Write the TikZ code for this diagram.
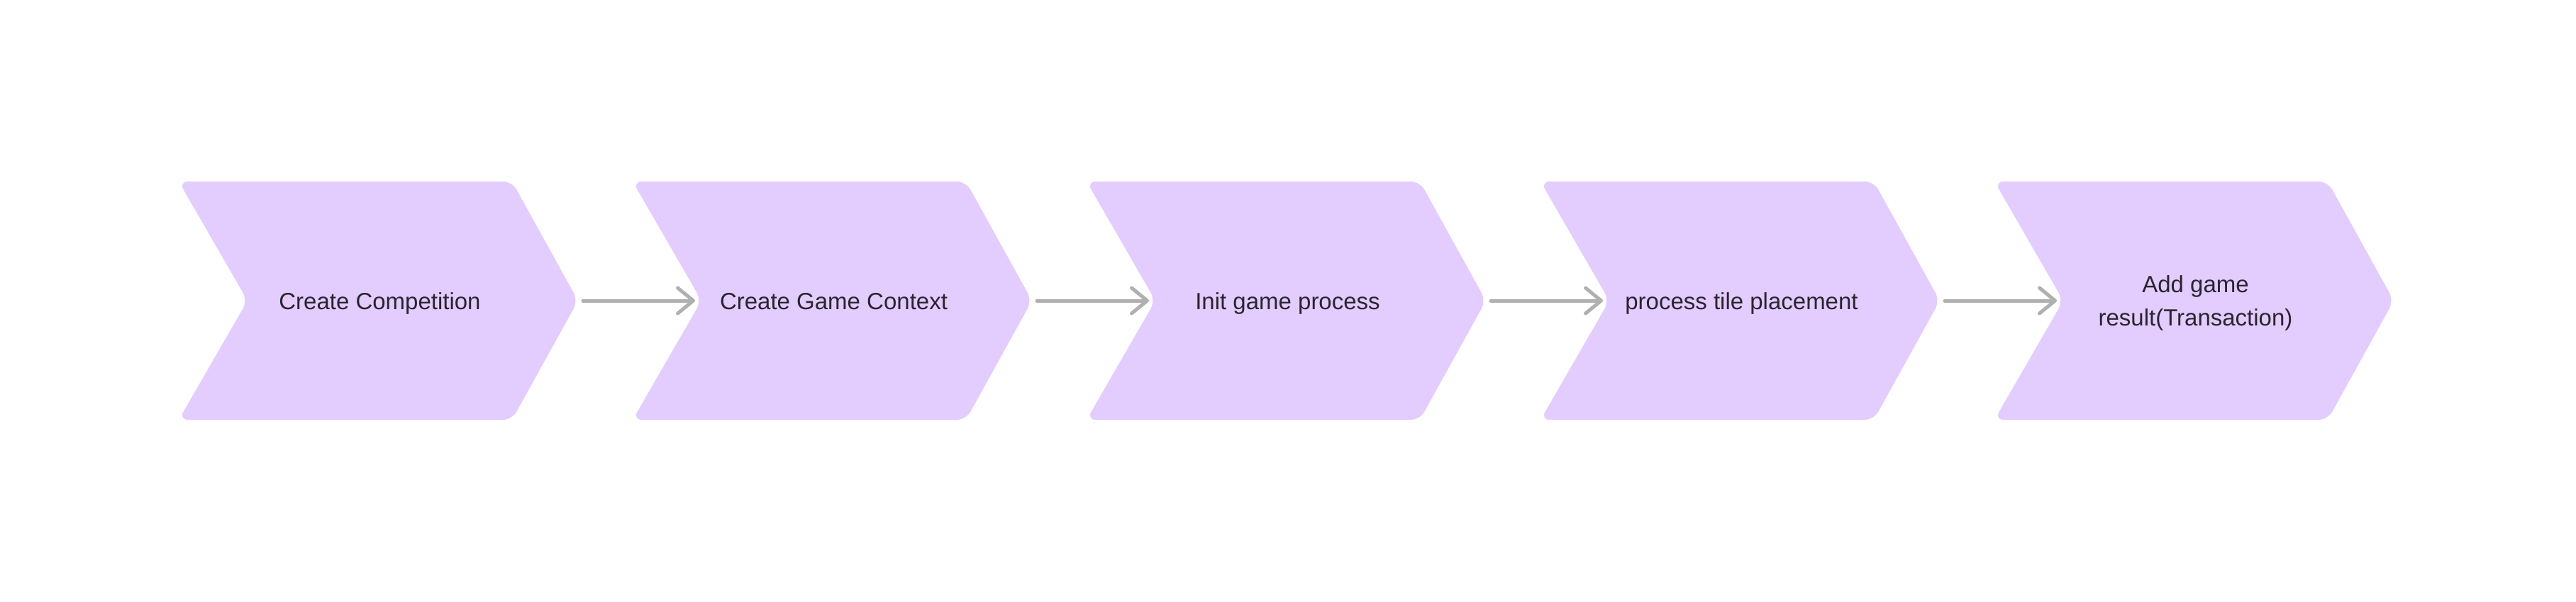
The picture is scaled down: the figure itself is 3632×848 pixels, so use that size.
\documentclass[tikz,border=0pt]{standalone}
\usepackage{fontspec}
\setmainfont{Liberation Sans}
\usetikzlibrary{arrows.meta}
\definecolor{chev}{HTML}{E3CCFE}
\definecolor{txt}{HTML}{2A2530}
\definecolor{arr}{HTML}{B0B0B0}
\begin{document}
\begin{tikzpicture}[x=0.5pt,y=-0.5pt,
  chevron/.style={fill=chev, rounded corners=6.5pt},
  steplabel/.style={font=\fontsize{16.5}{23.5}\selectfont, text=txt, align=center, inner sep=0pt, anchor=base},
  flow/.style={draw=arr, line width=2.5pt, line cap=round, line join=round,
    -{Straight Barb[length=11pt,width=18pt,round]}}]
\useasboundingbox (0,0) rectangle (3632,848);
\fill[white] (0,0) rectangle (3632,848);
\foreach \L/\ty/\t [count=\i] in {256/436/{Create Competition},896/436/{Create Game Context},1536/436/{Init game process},2176/436/{process tile placement},2816/459/{Add game\\result(Transaction)}}{
  \fill[chevron] (\L-4,256) -- (\L+466,256) -- (\L+559,424) -- (\L+466,592) -- (\L-4,592) -- (\L+93,424) -- cycle;
  \node[steplabel] (s\i) at (\L+279.5,\ty) {\t};
  \coordinate (out\i) at (\L+566,424);
  \coordinate (in\i) at (\L+84,424);
}
\foreach \i [evaluate=\i as \j using int(\i+1)] in {1,...,4}
  \draw[flow] (out\i) -- (in\j);
\end{tikzpicture}
\end{document}
